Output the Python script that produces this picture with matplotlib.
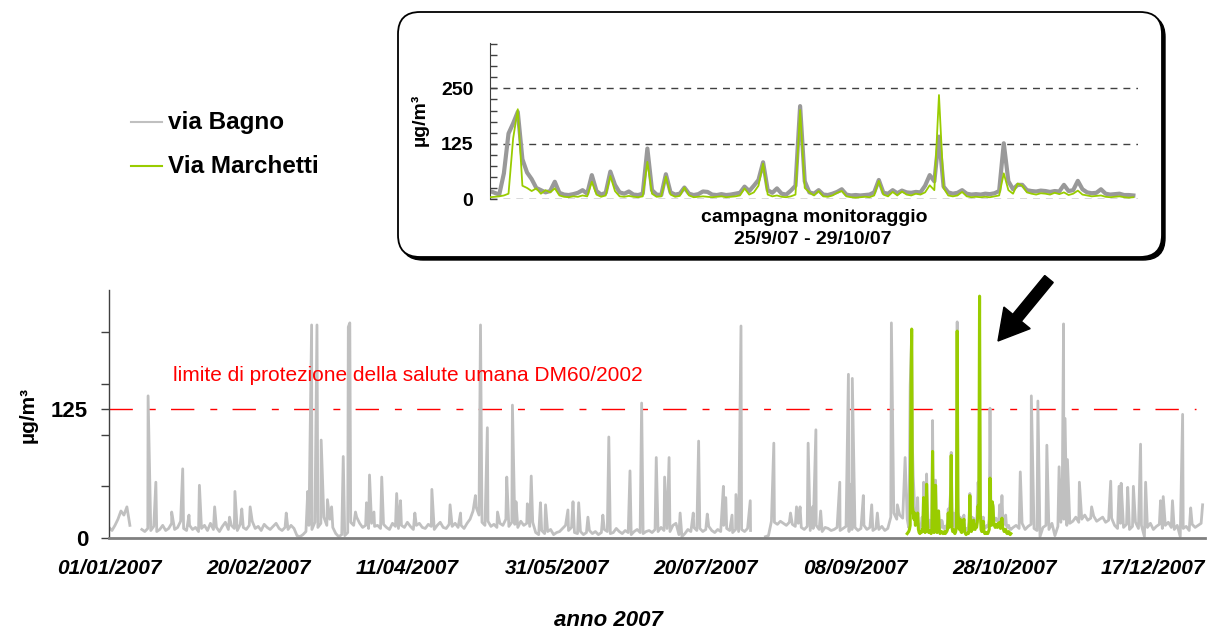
import numpy as np
import matplotlib
matplotlib.use('Agg')
import matplotlib.pyplot as plt
from matplotlib.lines import Line2D
from matplotlib.patches import FancyBboxPatch, FancyArrow
from matplotlib.transforms import IdentityTransform

plt.rcParams['font.family'] = ['Liberation Sans', 'DejaVu Sans']

nan = np.nan

# ---------------- data (µg/m3) ----------------
# via Bagno: one value per day, day 0 = 01/01/2007
bagno_jan = [10, 7, 12, 18, 26, 22, 30, 12, nan, nan, nan, 8, 6, 9, 7, 11, 6, 8, 12, 7,
             9, 14, 8, 10, 16, 9, 7, 12, 8, 10, 6]
bagno_feb = [9, 12, 7, 14, 8, 10, 6, 11, 15, 8, 12, 9, 7, 13, 10, 8, 12, 16, 9, 11,
             7, 13, 10, 8, 11, 14, 9, 7]
bagno_mar = [10, 8, 12, 9, 2, 1, 3, 6, 12, 8, 15, 10, 14, 20, 12, 18, 10, 4, 1, 3,
             2, 5, 15, 12, 20, 14, 10, 12, 9, 14, 11]
bagno_apr = [12, 9, 13, 10, 8, 14, 11, 9, 12, 10, 15, 11, 8, 12, 14, 10, 9, 13, 11, 8,
             12, 15, 10, 9, 13, 11, 14, 10, 12, 9]
bagno_may = [14, 18, 26, 30, 22, 15, 12, 16, 11, 13, 10, 14, 12, 18, 11, 15, 13, 10, 16, 12,
             14, 11, 15, 5, 3, 7, 4, 6, 8, 3, 5]
bagno_jun = [6, 9, 12, 7, 10, 5, 4, 6, 3, 5, 7, 4, 6, 3, 5, 8, 6, 4, 5, 9,
             6, 4, 7, 5, 3, 6, 8, 5, 4, 6]
bagno_jul = [7, 5, 8, 6, 10, 7, 9, 6, 12, 14, 3, 1, 4, 8, 6, 10, 7, 9, 6, 8,
             11, 7, 5, 8, 6, 12, 9, 7, 5, 8, 6]
bagno_aug = [8, 6, 9, 7, nan, nan, nan, nan, 1, 2, 16, 15, 13, 16, 14, 12, 15, 13, 11, 14,
             10, 8, 11, 7, 9, 12, 8, 6, 10, 9, 7]
bagno_sep = [8, 10, 7, 9, 11, 6, 8, 10, 7, 9, 12, 8, 10, 7, 9, 8, 11, 7, 9, 20,
             24, 18, 22, 19]
# 31/10/2007 (day 303) to 02/01/2008
bagno_novdec = [10, 12, 9, 14, 8, 11, 13, 9, 7, 1, 10, 12, 8, 14, 2, 11, 15, 18, 12, 14,
                16, 20, 15, 18, 22, 17, 19, 21, 16, 18, 20, 15, 17, 19,
                12, 9, 14, 10, 13, 8, 11, 15, 9, 12, 1, 10, 14, 8, 11, 13, 9, 12, 15, 10,
                8, 12, 1, 9, 11, 7, 13, 10, 12, 14]

# hourly peaks of via Bagno outside the campaign (day, value)
bagno_peak_day = [13.1, 15.7, 21.0, 24.7, 26.8, 30.3, 35.4, 40.4, 42.2, 44.5, 47.3, 59.4,
                  66.6, 67.9, 69.7, 71.1, 73.2, 74.6, 78.5, 80.2, 80.7, 82.6, 86.3, 87.3,
                  88.8, 91.4, 96.4, 97.7, 102.5, 108.2, 114.3, 117.8, 122.8, 124.5, 126.8,
                  130.2, 133.3, 135.2, 136.4, 140.2, 141.5, 144.6, 146.3, 153.8, 155.5,
                  157.4, 160.5, 165.5, 167.5, 174.6, 178.5, 183.4, 186.2, 187.7, 191.4,
                  195.8, 197.6, 200.5, 205.9, 206.7, 208.8, 210.1, 211.8, 214.9, 222.8,
                  228.4, 230.4, 231.6, 234.3, 235.8, 236.9, 238.5, 244.9, 247.8, 248.5,
                  249.1, 252.8, 255.6, 257.5, 262.2, 264.2, 266.8,
                  305.4, 309.1, 311.3, 314.3, 318.4, 319.5, 319.9, 320.4, 321.2, 325.2,
                  329.3, 335.7, 338.5, 339.2, 341.4, 343.3, 345.7, 347.4, 352.4, 353.3,
                  356.4, 359.8, 362.5, 366.5]
bagno_peak_val = [138, 54, 25, 67, 22, 51, 30, 20, 45, 28, 30, 24,
                  45, 207, 207, 95, 37, 30, 79, 205, 209, 25, 34, 61,
                  25, 59, 43, 36, 24, 47, 32, 24, 41, 207, 107,
                  25, 59, 129, 35, 33, 60, 34, 32, 27, 35,
                  34, 20, 22, 98, 65, 131, 78, 59, 78, 24,
                  24, 94, 23, 50, 39, 22, 42, 206, 36, 92,
                  24, 30, 30, 92, 30, 105, 26, 54, 159, 52,
                  155, 41, 32, 24, 209, 32, 78,
                  64, 138, 133, 90, 69, 59, 208, 116, 76, 54,
                  30, 55, 50, 53, 49, 50, 91, 54, 36, 40,
                  36, 120, 29, 32]

# monitoring campaign 25/9/07 - 29/10/07, one value every 6 hours
camp_start = 267.5
camp_step = 0.25
bagno_camp = [18, 14, 10, 58, 148, 171, 197, 90, 60, 45, 25, 20, 15, 18, 39, 14, 10, 9, 11, 14,
              20, 12, 54, 18, 10, 14, 62, 32, 15, 12, 17, 10, 9, 12, 114, 20, 10, 9, 56, 15,
              10, 12, 26, 12, 9, 11, 17, 16, 10, 9, 11, 9, 10, 12, 14, 28, 18, 30, 43, 83,
              20, 14, 24, 12, 10, 19, 30, 210, 40, 15, 12, 20, 10, 9, 12, 16, 22, 10, 8, 9,
              8, 9, 10, 15, 43, 14, 12, 20, 13, 19, 15, 14, 16, 15, 30, 54, 40, 141, 28, 15,
              12, 14, 20, 12, 10, 11, 10, 12, 11, 13, 18, 126, 40, 22, 32, 32, 20, 18, 17, 19,
              18, 16, 18, 17, 32, 18, 20, 41, 22, 15, 13, 14, 22, 12, 10, 11, 12, 9, 9, 8]
marchetti_camp = [4, 5, 6, 8, 12, 137, 203, 30, 25, 18, 24, 12, 20, 15, 24, 8, 5, 4, 6, 5,
                  8, 6, 39, 10, 5, 8, 52, 18, 6, 5, 7, 5, 4, 6, 84, 12, 5, 6, 51, 10,
                  5, 7, 26, 8, 4, 5, 6, 5, 4, 5, 6, 4, 5, 6, 8, 24, 10, 15, 30, 80,
                  10, 6, 8, 5, 4, 6, 10, 201, 25, 15, 8, 18, 6, 5, 8, 14, 18, 6, 4, 3,
                  4, 5, 4, 8, 41, 10, 6, 16, 8, 17, 10, 8, 12, 10, 15, 31, 20, 235, 25, 8,
                  6, 8, 16, 6, 4, 5, 4, 5, 4, 6, 8, 58, 20, 12, 35, 30, 15, 12, 10, 13,
                  12, 10, 14, 11, 15, 9, 12, 19, 10, 8, 6, 7, 8, 5, 4, 5, 6, 4, 3, 4]

limit_value = 125
tick_days = [0, 50, 100, 150, 200, 250, 300, 350]
tick_labels = ['01/01/2007', '20/02/2007', '11/04/2007', '31/05/2007',
               '20/07/2007', '08/09/2007', '28/10/2007', '17/12/2007']

# ---------------- build series ----------------
pre = np.array(bagno_jan + bagno_feb + bagno_mar + bagno_apr + bagno_may +
               bagno_jun + bagno_jul + bagno_aug + bagno_sep, dtype=float)
pre_days = np.arange(len(pre), dtype=float)
post = np.array(bagno_novdec, dtype=float)
post_days = 303 + np.arange(len(post), dtype=float)
camp_days = camp_start + camp_step * np.arange(len(bagno_camp))

bx = np.concatenate([pre_days, camp_days, post_days, np.array(bagno_peak_day)])
by = np.concatenate([pre, np.array(bagno_camp, float), post, np.array(bagno_peak_val, float)])
order = np.argsort(bx, kind='mergesort')
bx, by = bx[order], by[order]

W, H = 1218, 632
fig = plt.figure(figsize=(W / 100, H / 100), dpi=100)

def fx(px):
    return px / W

def fy(py):
    return 1 - py / H

# ---------------- main axes ----------------
ax = fig.add_axes([fx(109), fy(537.7), (1205 - 109) / W, (537.7 - 290) / H])
ax.plot(bx, by, color='#c0c0c0', lw=2.0, zorder=2)
ax.plot(camp_days, marchetti_camp, color='#99cc00', lw=2.2, zorder=3)
ax.axhline(limit_value, xmax=0.992, color='red', lw=1.0,
           dashes=(16.8, 11.5, 5.0, 11.0), zorder=1)
ax.set_xlim(0, 367.3)
ax.set_ylim(0, 241)
for s in ['top', 'right']:
    ax.spines[s].set_visible(False)
ax.spines['bottom'].set_color('#808080')
ax.spines['bottom'].set_linewidth(2)
ax.spines['bottom'].set_zorder(4)
ax.spines['left'].set_color('#404040')
ax.spines['left'].set_linewidth(1)
ax.set_yticks([0, 50, 100, 125, 150, 200])
ax.set_yticklabels(['0', '', '', '125', '', ''], fontsize=16, fontweight='bold')
ax.tick_params(axis='y', direction='out', length=6, width=1, color='#404040', pad=9)
ax.set_xticks(tick_days)
ax.set_xticklabels(tick_labels, fontsize=15, fontweight='bold', fontstyle='italic')
ax.tick_params(axis='x', length=0, pad=15)

fig.text(fx(28), fy(415), 'µg/m³', rotation=90, ha='center', va='center',
         fontsize=15, fontweight='bold')
fig.text(fx(608), fy(621), 'anno 2007', ha='center', va='center',
         fontsize=16, fontweight='bold', fontstyle='italic')
fig.text(fx(173), fy(375), 'limite di protezione della salute umana DM60/2002',
         ha='left', va='center', fontsize=15, color='red')

# ---------------- legend ----------------
fig.add_artist(Line2D([fx(131), fx(162)], [fy(122), fy(122)], color='#c0c0c0', lw=1.5))
fig.add_artist(Line2D([fx(131), fx(162)], [fy(166), fy(166)], color='#99cc00', lw=1.5))
fig.text(fx(168), fy(122), 'via Bagno', ha='left', va='center', fontsize=17.5, fontweight='bold')
fig.text(fx(168), fy(166), 'Via Marchetti', ha='left', va='center', fontsize=17.5, fontweight='bold')

# ---------------- inset box ----------------
bx0, by0, bw, bh = 398, H - 257, 1162 - 398, 257 - 12
shadow = FancyBboxPatch((bx0 + 3, by0 - 3), bw, bh, boxstyle='round,pad=0,rounding_size=22',
                        transform=IdentityTransform(), facecolor='black', edgecolor='black',
                        lw=1, zorder=-2)
box = FancyBboxPatch((bx0, by0), bw, bh, boxstyle='round,pad=0,rounding_size=22',
                     transform=IdentityTransform(), facecolor='white', edgecolor='black',
                     lw=1.3, zorder=-1)
fig.add_artist(shadow)
fig.add_artist(box)

axi = fig.add_axes([fx(490), fy(199), 648 / W, (199 - 43.3) / H])
axi.set_facecolor('none')
for v in [0, 125, 250]:
    axi.axhline(v, color='#404040', lw=1, dashes=(5, 4.3), zorder=1)
t_camp = camp_step * np.arange(len(bagno_camp))
axi.plot(t_camp, bagno_camp, color='#999999', lw=3.0, zorder=2)
axi.plot(t_camp, marchetti_camp, color='#99cc00', lw=1.3, zorder=3)
axi.set_xlim(0, 35)
axi.set_ylim(0, 352)
for s in ['top', 'right', 'bottom']:
    axi.spines[s].set_visible(False)
axi.spines['left'].set_color('#404040')
axi.set_xticks([])
axi.set_yticks([0, 125, 250])
axi.set_yticklabels(['0', '125', '250'], fontsize=14, fontweight='bold')
axi.set_yticks(np.arange(0, 351, 25), minor=True)
axi.tick_params(axis='y', which='both', direction='in', length=5, width=1,
                color='#404040', pad=12)
fig.text(fx(420), fy(120), 'µg/m³', rotation=90, ha='center', va='center',
         fontsize=14, fontweight='bold')
fig.text(fx(814), fy(217), 'campagna monitoraggio', ha='center', va='center',
         fontsize=14, fontweight='bold')
fig.text(fx(813), fy(239), '25/9/07 - 29/10/07', ha='center', va='center',
         fontsize=14, fontweight='bold')

# ---------------- arrow ----------------
arr = FancyArrow(1049, H - 279, -51, -62, width=11, head_width=34, head_length=30,
                 length_includes_head=True, color='black', transform=IdentityTransform())
fig.add_artist(arr)

fig.savefig('out.png', dpi=100)
